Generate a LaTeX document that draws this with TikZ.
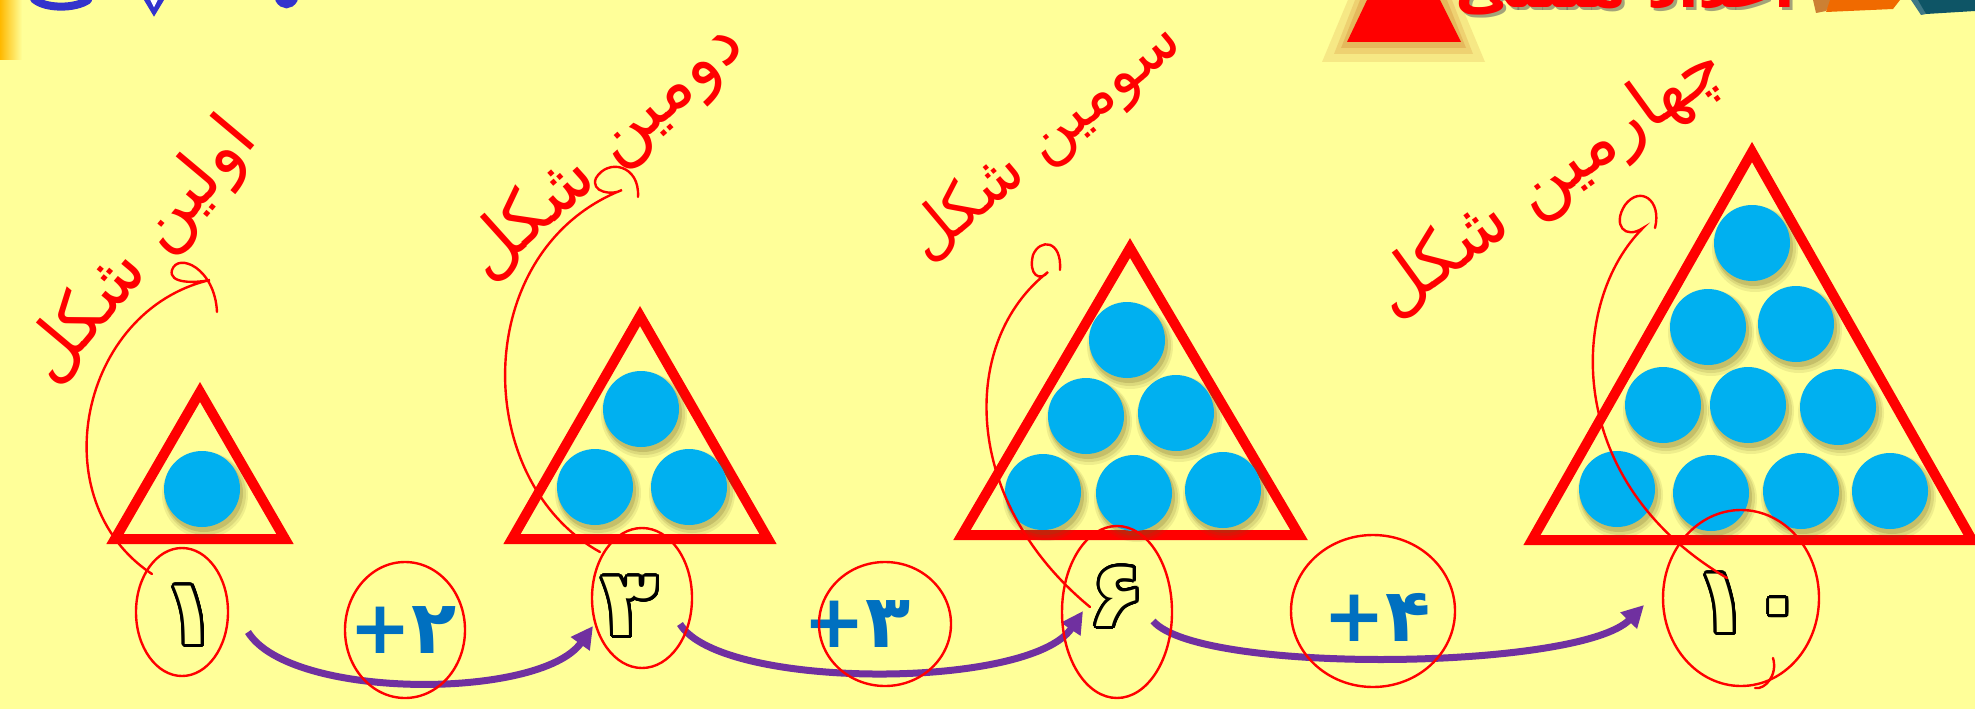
\documentclass[tikz,border=0pt]{standalone}
\usepackage{fontspec}
\usepackage{contour}
\usetikzlibrary{arrows.meta,calc}
\TeXXeTstate=1
\newfontfamily\arabicfont[Script=Arabic]{DejaVu Sans}
\newfontfamily\digfont{DejaVu Sans}
\definecolor{bgc}{HTML}{FFFF99}
\definecolor{ballc}{HTML}{00B0F0}
\definecolor{trired}{HTML}{FF0000}
\definecolor{arcc}{HTML}{7030A0}
\definecolor{plusc}{HTML}{0070C0}
\definecolor{shadc}{HTML}{6B5A1E}
\definecolor{bluet}{HTML}{3333CC}
\definecolor{orangeb}{HTML}{F06A00}
\definecolor{tealb}{HTML}{0E5566}
\contourlength{3pt}
\contournumber{40}
\newcommand\mkball[2]{%
  \fill[shadc,opacity=0.10] (#1+3,#2+6) circle[radius=43pt];
  \fill[shadc,opacity=0.14] (#1+3,#2+5) circle[radius=41pt];
  \fill[shadc,opacity=0.20] (#1+2,#2+4) circle[radius=39pt];
  \fill[ballc] (#1,#2) circle[radius=38pt];}
\begin{document}
\begin{tikzpicture}[x=1pt,y=-1pt,
  tri/.style={draw=trired, line width=10pt, line join=miter},
  ink/.style={draw=trired, line width=2.4pt, line cap=round},
  arcline/.style={draw=arcc, line width=7pt, -{Triangle[length=22pt,width=22pt]}},
  numtxt/.style={text=bgc, font=\digfont\bfseries\fontsize{92}{104}\selectfont, inner sep=0pt},
  plustxt/.style={text=plusc, font=\digfont\bfseries\fontsize{74}{88}\selectfont, inner sep=0pt},
  note/.style={text=trired, font=\arabicfont\fontsize{70}{80}\selectfont, inner sep=0pt}
]
\useasboundingbox (0,0) rectangle (1975,709);
\fill[bgc] (0,0) rectangle (1975,709);

% header fragments
\shade[left color=orange!55!yellow, right color=bgc] (0,0) rectangle (22,60);
\draw[bluet, line width=8pt, line cap=round] (34,-1) .. controls (45,9) and (75,9) .. (88,0);
\draw[bluet, line width=9pt, line cap=round] (148,-2) -- (154,8) -- (160,-2);
\draw[white, line width=3pt, line cap=round] (151,-2) -- (154,4) -- (157,-2);
\draw[bluet, line width=8pt, line cap=round] (279,-1) .. controls (283,6) and (290,6) .. (294,-1);

\fill[brown!70!orange, opacity=0.18] (1350,-5) -- (1457,-5) -- (1485,62) -- (1322,62) -- cycle;
\fill[brown!70!orange, opacity=0.22] (1357,-5) -- (1450,-5) -- (1473,54) -- (1334,54) -- cycle;
\fill[brown!70!orange, opacity=0.30] (1362,-5) -- (1445,-5) -- (1466,48) -- (1341,48) -- cycle;
\fill[trired] (1367,0) -- (1440,0) -- (1461,42) -- (1347,42) -- cycle;

\node[text=black!60, opacity=0.6, font=\arabicfont\bfseries\fontsize{60}{70}\selectfont, anchor=base, inner sep=0pt] (titleshadow) at (1628,11) {\beginR اعداد مثلثی\endR};
\node[text=trired, font=\arabicfont\bfseries\fontsize{60}{70}\selectfont, anchor=base, inner sep=0pt] (title) at (1625,8) {\beginR اعداد مثلثی\endR};

\fill[brown!80!orange] (1813,0) -- (1832,0) -- (1826,11) -- (1816,13) -- cycle;
\fill[orangeb] (1830,0) -- (1900,0) -- (1893,9) -- (1826,12) -- cycle;
\fill[tealb!80!white] (1911,0) -- (1919,0) -- (1926,14) -- (1921,15) -- cycle;
\fill[tealb] (1918,0) -- (1975,0) -- (1975,11) -- (1926,14) -- cycle;

% triangles
\draw[tri] (200,392) -- (285,539) -- (115,539) -- cycle;
\draw[tri] (640,316) -- (768,539) -- (512,539) -- cycle;
\draw[tri] (1130,248) -- (1299,535) -- (962,535) -- cycle;
\draw[tri] (1752,152) -- (1972,540) -- (1532,540) -- cycle;

% balls
\mkball{202}{489}
\mkball{641}{409}\mkball{595}{487}\mkball{689}{487}
\mkball{1127}{340}\mkball{1086}{416}\mkball{1176}{413}
\mkball{1043}{492}\mkball{1134}{493}\mkball{1223}{490}
\mkball{1752}{243}\mkball{1708}{327}\mkball{1796}{324}
\mkball{1663}{405}\mkball{1748}{405}\mkball{1838}{407}
\mkball{1617}{489}\mkball{1711}{493}\mkball{1801}{491}\mkball{1890}{491}

% numbers
\node[numtxt] (n1) at (190,617) {\contour{black}{۱}};
\node[numtxt] (n3) at (630,608) {\contour{black}{۳}};
\node[numtxt] (n6) at (1117,598) {\contour{black}{۶}};
\node[numtxt] (n10) at (1750,605) {\contour{black}{۱۰}};

\node[plustxt] (p2) at (403,630) {+۲};
\node[plustxt] (p3) at (857,624) {+۳};
\node[plustxt] (p4) at (1377,617) {+۴};

% arcs
\draw[arcline] ($(n1)+(58,15)$) .. controls ($(n1)+(100,83)$) and ($(n3)+(-90,92)$) .. ($(n3)+(-37,18)$);
\draw[arcline] ($(n3)+(50,16)$) .. controls ($(n3)+(90,82)$) and ($(n6)+(-87,92)$) .. ($(n6)+(-34,13)$);
\draw[arcline] ($(n6)+(36,23)$) .. controls ($(n6)+(83,77)$) and ($(n10)+(-170,65)$) .. ($(n10)+(-106,0)$);

% handwritten notes
\node[note, rotate=50] (a1) at (142,252) {\beginR اولین شکل\endR};
\node[note, rotate=42] (a2) at (605,152) {\beginR دومین شکل\endR};
\node[note, rotate=40, font=\arabicfont\fontsize{62}{72}\selectfont] (a3) at (1045,142) {\beginR سومین شکل\endR};
\node[note, rotate=36] (a4) at (1550,182) {\beginR چهارمین شکل\endR};

% pointers
\draw[ink] (217,312) .. controls (215,268) and (178,252) .. (172,270) .. controls (168,284) and (196,283) .. (210,280) .. controls (80,310) and (40,500) .. (152,574);
\draw[ink] (638,197) .. controls (640,165) and (608,158) .. (596,178) .. controls (590,192) and (612,196) .. (622,190) .. controls (470,250) and (470,480) .. (600,552);
\draw[ink] (1060,270) .. controls (1062,240) and (1040,238) .. (1033,255) .. controls (1028,275) and (1040,282) .. (1048,272) .. controls (960,340) and (960,500) .. (1090,607);
\draw[ink] (1655,228) .. controls (1662,200) and (1640,185) .. (1625,205) .. controls (1612,225) and (1625,240) .. (1643,228) .. controls (1570,300) and (1560,480) .. (1727,578);

% circles around numbers
\draw[ink] (182,612) ellipse [x radius=46pt, y radius=64pt];
\draw[ink] (405,630) ellipse [x radius=60pt, y radius=68pt];
\draw[ink] (642,598) ellipse [x radius=50pt, y radius=70pt];
\draw[ink] (885,624) ellipse [x radius=66pt, y radius=62pt];
\draw[ink] (1117,612) ellipse [x radius=55pt, y radius=86pt];
\draw[ink] (1373,611) ellipse [x radius=82pt, y radius=76pt];
\draw[ink] (1741,598) ellipse [x radius=78pt, y radius=88pt];
\draw[ink] (1773,658) .. controls (1778,675) and (1765,690) .. (1755,688);
\end{tikzpicture}
\end{document}
